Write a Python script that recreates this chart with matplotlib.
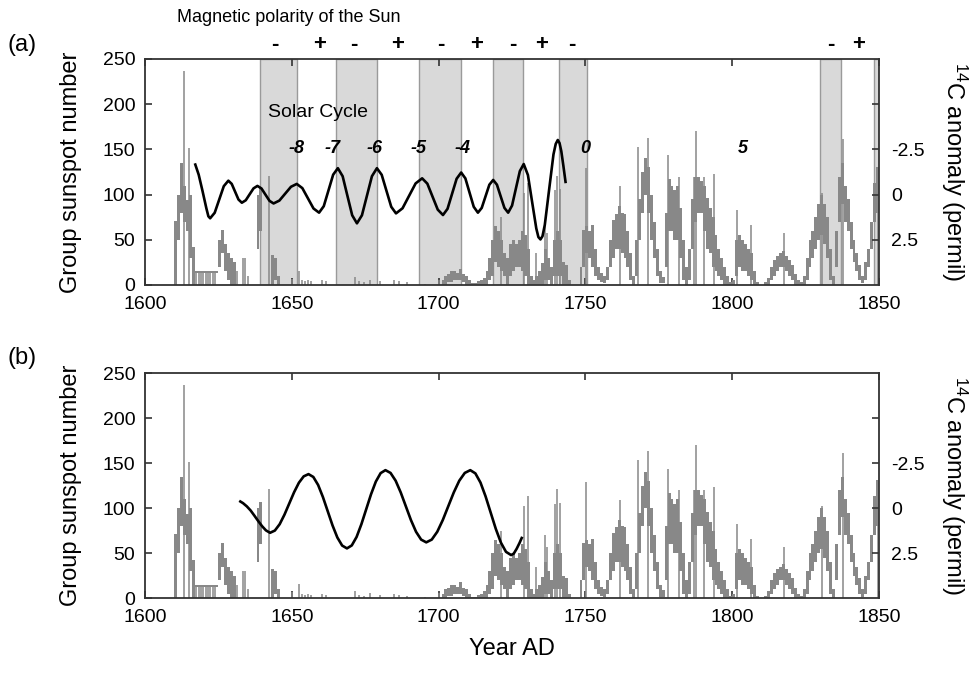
import numpy as np
import matplotlib
matplotlib.use("Agg")
from matplotlib import pyplot as plt

plt.rcParams['font.family'] = ['Liberation Sans', 'DejaVu Sans']
plt.rcParams['mathtext.fontset'] = 'custom'
plt.rcParams['mathtext.rm'] = 'Liberation Sans'
plt.rcParams['mathtext.it'] = 'Liberation Sans:italic'
plt.rcParams['mathtext.bf'] = 'Liberation Sans:bold'

# group sunspot number, per year 1610-1849: low and high of the monthly spread
ssn_year0 = 1610
ssn_lo = [
    0, 50, 80, 70, 60, 30, 0, 13, 13, 13,          # 1610
    13, 13, 13, 13, 13, 20, 35, 15, 5, 0,          # 1620
    0, 0, 0, 0, 0, 0, 0, 0, 40, 60,                # 1630
    0, 0, 0, 0, 5, 0, 0, 0, 0, 0,                  # 1640
    0, 0, 0, 0, 0, 0, 0, 0, 0, 0,                  # 1650
    0, 0, 0, 0, 0, 0, 0, 0, 0, 0,                  # 1660
    0, 0, 0, 0, 0, 0, 0, 0, 0, 0,                  # 1670
    0, 0, 0, 0, 0, 0, 0, 0, 0, 0,                  # 1680
    0, 0, 0, 0, 0, 0, 0, 0, 0, 0,                  # 1690
    0, 0, 0, 3, 3, 5, 5, 5, 3, 0,                  # 1700
    0, 0, 0, 0, 0, 0, 0, 5, 10, 25,                # 1710
    20, 15, 10, 0, 10, 15, 20, 20, 15, 10,         # 1720
    0, 0, 0, 0, 0, 0, 5, 5, 0, 10,                 # 1730
    10, 10, 0, 0, 0, 0, 0, 0, 0, 20,               # 1740
    35, 30, 20, 10, 5, 3, 2, 5, 20, 30,            # 1750
    40, 40, 35, 30, 20, 5, 0, 10, 50, 80,          # 1760
    100, 80, 50, 30, 10, 2, 2, 20, 60, 60,         # 1770
    50, 50, 30, 5, 0, 5, 40, 70, 80, 80,           # 1780
    60, 40, 35, 20, 15, 10, 5, 0, 0, 0,            # 1790
    0, 10, 20, 15, 15, 10, 5, 0, 0, 0,             # 1800
    0, 0, 0, 5, 10, 15, 20, 20, 15, 10,            # 1810
    5, 0, 0, 0, 0, 5, 20, 30, 40, 50,              # 1820
    55, 45, 30, 5, 0, 20, 70, 90, 70, 60,          # 1830
    40, 25, 15, 5, 2, 5, 20, 40, 70, 80,           # 1840
]
ssn_hi = [
    71, 100, 135, 110, 94, 100, 42, 15, 15, 15,    # 1610
    15, 15, 15, 15, 15, 50, 61, 45, 35, 30,        # 1620
    25, 0, 0, 0, 0, 0, 0, 0, 100, 107,             # 1630
    0, 0, 0, 33, 30, 10, 0, 0, 0, 0,               # 1640
    0, 0, 0, 0, 0, 0, 0, 0, 0, 0,                  # 1650
    0, 0, 0, 0, 0, 0, 0, 0, 0, 0,                  # 1660
    0, 0, 0, 0, 0, 0, 0, 0, 0, 0,                  # 1670
    0, 0, 0, 0, 0, 0, 0, 0, 0, 0,                  # 1680
    0, 0, 0, 0, 0, 0, 0, 0, 0, 0,                  # 1690
    0, 5, 10, 12, 15, 15, 13, 18, 12, 10,          # 1700
    5, 2, 2, 4, 5, 8, 15, 30, 50, 65,              # 1710
    60, 50, 35, 30, 45, 50, 45, 50, 60, 55,        # 1720
    40, 10, 5, 10, 15, 24, 40, 30, 20, 50,         # 1730
    60, 50, 25, 22, 5, 0, 0, 0, 20, 61,            # 1740
    65, 60, 66, 40, 20, 13, 10, 20, 50, 72,        # 1750
    79, 87, 80, 79, 60, 35, 10, 50, 95, 125,       # 1760
    140, 130, 100, 70, 40, 15, 9, 80, 117, 110,    # 1770
    105, 110, 85, 50, 20, 40, 95, 120, 120, 115,   # 1780
    110, 96, 85, 75, 55, 40, 30, 20, 10, 3,        # 1790
    5, 50, 55, 50, 45, 40, 35, 15, 3, 0,           # 1800
    0, 3, 8, 20, 28, 32, 35, 38, 32, 28,           # 1810
    22, 12, 5, 3, 10, 30, 50, 60, 75, 90,          # 1820
    100, 90, 75, 40, 10, 60, 120, 135, 110, 95,    # 1830
    70, 50, 35, 22, 10, 25, 40, 70, 113, 131,      # 1840
]

# single monthly spikes / isolated values (year, group sunspot number)
spike_years = [1613.4, 1615.1, 1617.5, 1618.3, 1619.1, 1619.9, 1620.7, 1621.5,
               1622.3, 1623.1, 1624.0, 1631.5, 1633.4, 1634.0, 1635.2, 1642.3,
               1650.0, 1652.3, 1653.5, 1654.6, 1655.5, 1656.7, 1660.3, 1661.8,
               1671.6, 1672.8, 1674.5, 1676.7, 1680.2, 1684.7, 1686.4, 1689.2,
               1695.5, 1700.0, 1721.3, 1729.0, 1730.5, 1733.2, 1736.4, 1737.0,
               1739.6, 1740.2, 1741.2, 1750.1, 1761.7, 1768.0, 1771.4, 1778.0,
               1781.9, 1787.0, 1787.8, 1790.4, 1793.8, 1801.6, 1806.4, 1817.5,
               1830.5, 1837.6, 1849.6]
spike_vals = [237, 151, 15, 15, 15, 15, 15, 15,
              15, 15, 15, 15, 30, 30, 10, 121,
              7, 16, 5, 4, 5, 4, 5, 4,
              8.5, 4, 3, 6, 4, 5, 4, 3,
              1, 6, 75, 102, 113, 35, 70, 57,
              105, 121, 106, 129, 109, 153, 163, 144,
              120, 120, 170, 120, 123, 83, 66, 57,
              102, 161, 131]

# 14C anomaly (permil), panel (a)
c14a_year = [1617.0, 1618.3, 1619.6, 1620.9, 1621.6, 1622.2, 1623.75, 1625.3, 1626.85,
             1628.4, 1629.55, 1630.7, 1631.85, 1633.0, 1634.33, 1635.65, 1636.98,
             1638.3, 1639.68, 1641.05, 1642.43, 1643.8, 1645.78, 1647.75, 1649.73,
             1651.7, 1653.6, 1655.5, 1657.4, 1659.3, 1660.9, 1662.5, 1664.1,
             1665.7, 1667.33, 1668.95, 1670.58, 1672.2, 1673.9, 1675.6, 1677.3,
             1679.0, 1680.63, 1682.25, 1683.88, 1685.5, 1687.73, 1689.95, 1692.18,
             1694.4, 1696.18, 1697.95, 1699.73, 1701.5, 1703.05, 1704.6, 1706.15,
             1707.7, 1709.13, 1710.55, 1711.98, 1713.4, 1714.7, 1716.0, 1717.3,
             1718.6, 1719.88, 1721.15, 1722.43, 1723.7, 1725.03, 1726.35, 1727.68,
             1729.0, 1730.43, 1731.85, 1733.28, 1734.0, 1734.7, 1735.4, 1736.18,
             1737.65, 1739.13, 1739.9, 1740.6, 1741.2, 1741.8, 1742.5, 1743.3]
c14a_val = [-1.73, -1.1, -0.2, 0.75, 1.2, 1.31, 1.006, 0.27, -0.466,
            -0.77, -0.592, -0.16, 0.272, 0.45, 0.314, -0.015, -0.344,
            -0.48, -0.338, 0.005, 0.348, 0.49, 0.332, -0.05, -0.432,
            -0.59, -0.358, 0.205, 0.768, 1.0, 0.641, -0.23, -1.101,
            -1.46, -1.015, 0.065, 1.145, 1.59, 1.145, 0.065, -1.015,
            -1.46, -1.095, -0.21, 0.675, 1.04, 0.757, 0.07, -0.617,
            -0.9, -0.604, 0.115, 0.834, 1.13, 0.787, -0.045, -0.877,
            -1.22, -0.896, -0.11, 0.676, 1.0, 0.736, 0.095, -0.546,
            -0.81, -0.546, 0.095, 0.736, 1.0, 0.607, -0.345, -1.297,
            -1.69, -1.081, 0.395, 1.871, 2.35, 2.48, 2.3, 1.677,
            -0.27, -2.217, -2.8, -3.02, -2.85, -2.4, -1.6, -0.63]

# 14C anomaly (permil), panel (b)
c14b_year = [1632.1, 1633.4, 1634.7, 1636.0, 1637.3, 1638.6, 1639.9, 1641.2,
             1642.6, 1644.24, 1645.88, 1647.51, 1649.15, 1650.79, 1652.43, 1654.06,
             1655.7, 1657.34, 1658.98, 1660.61, 1662.25, 1663.89, 1665.53, 1667.16,
             1668.8, 1670.44, 1672.08, 1673.71, 1675.35, 1676.99, 1678.63, 1680.26,
             1681.9, 1683.64, 1685.38, 1687.11, 1688.85, 1690.59, 1692.33, 1694.06,
             1695.8, 1697.68, 1699.55, 1701.43, 1703.3, 1705.18, 1707.05, 1708.93,
             1710.8, 1712.54, 1714.28, 1716.01, 1717.75, 1719.49, 1721.23, 1722.96,
             1724.7, 1725.6, 1726.6, 1727.6, 1728.5]
c14b_val = [-0.41, -0.28, -0.1, 0.13, 0.42, 0.72, 1.0, 1.23,
            1.365, 1.241, 0.888, 0.36, -0.263, -0.885, -1.413, -1.766,
            -1.89, -1.733, -1.287, -0.618, 0.17, 0.958, 1.627, 2.073,
            2.23, 2.065, 1.595, 0.89, 0.06, -0.77, -1.475, -1.945,
            -2.11, -1.957, -1.524, -0.874, -0.107, 0.659, 1.309, 1.742,
            1.895, 1.742, 1.309, 0.659, -0.107, -0.874, -1.524, -1.957,
            -2.11, -1.931, -1.42, -0.656, 0.245, 1.146, 1.91, 2.421,
            2.6, 2.52, 2.25, 1.92, 1.585]

# negative-polarity shaded intervals in panel (a)
band_start = [1639.2, 1665.1, 1693.5, 1718.7, 1740.9, 1829.9, 1848.3]
band_end = [1651.8, 1679.1, 1707.8, 1728.9, 1750.4, 1837.0, 1850.0]

polarity_year = [1644.3, 1659.3, 1671.3, 1685.9, 1700.6, 1712.9, 1725.2, 1735.1,
                 1745.3, 1833.6, 1843.2]
polarity_sign = ['-', '+', '-', '+', '-', '+', '-', '+', '-', '-', '+']

cycle_year = [1651.5, 1664.0, 1678.2, 1693.0, 1708.0, 1750.0, 1803.7]
cycle_label = ['-8', '-7', '-6', '-5', '-4', '0', '5']

ssn_color = '#888888'
frame_color = '#333333'

fig = plt.figure(figsize=(9.69, 6.75), dpi=100)
ax_a = fig.add_axes([0.1496, 0.5778, 0.7575, 0.3348])
ax_b = fig.add_axes([0.1496, 0.1136, 0.7575, 0.3338])

years = np.arange(ssn_year0, ssn_year0 + len(ssn_lo))
lo = np.array(ssn_lo, dtype=float)
hi = np.array(ssn_hi, dtype=float)


def draw_panel(ax, c14_year, c14_val):
    ax.bar(years, hi - lo, bottom=lo, width=1.0, align='edge',
           color=ssn_color, linewidth=0, zorder=2)
    ax.vlines(spike_years, 0, spike_vals, color=ssn_color, lw=1.1, zorder=2)
    ax.set_xlim(1600, 1850)
    ax.set_ylim(0, 250)
    ax.set_xticks([1600, 1650, 1700, 1750, 1800, 1850])
    ax.set_yticks([0, 50, 100, 150, 200, 250])
    ax.tick_params(direction='in', length=5, width=1.2, labelsize=14,
                   top=True, pad=7, color=frame_color)
    ax.tick_params(axis='x', pad=8)
    for s in ax.spines.values():
        s.set_color(frame_color)
        s.set_linewidth(1.3)
    ax.set_ylabel('Group sunspot number', fontsize=17, labelpad=15)

    # right axis: 14C anomaly, inverted
    ax2 = ax.twinx()
    ax2.set_ylim(5, -7.5)
    ax2.set_yticks([-5, -2.5, 0, 2.5])
    ax2.set_yticklabels(['', '-2.5', '0', '2.5'])
    ax2.tick_params(direction='in', length=5, width=1.2, labelsize=14,
                    pad=9, color=frame_color)
    for s in ax2.spines.values():
        s.set_visible(False)
    ax2.plot(c14_year, c14_val, color='black', lw=1.9, zorder=5,
             solid_capstyle='butt', solid_joinstyle='round')
    ax2.set_ylabel(r'$^{14}$C anomaly (permil)', fontsize=17, rotation=-90,
                   labelpad=32)
    return ax2


# panel (a)
for x0, x1 in zip(band_start, band_end):
    ax_a.axvspan(x0, x1, facecolor='#d9d9d9', edgecolor='#9a9a9a', lw=1.0, zorder=1)
draw_panel(ax_a, c14a_year, c14a_val)
ax_a.text(1659.0, 191, 'Solar Cycle', fontsize=14, ha='center', va='center', zorder=6)
for yr, lab in zip(cycle_year, cycle_label):
    ax_a.text(yr, 151, lab, fontsize=13, fontweight='bold', fontstyle='italic',
              ha='center', va='center', zorder=6)
for yr, sg in zip(polarity_year, polarity_sign):
    ax_a.text(yr, 1.065, sg, transform=ax_a.get_xaxis_transform(),
              fontsize=16, fontweight='bold', ha='center', va='center')

# panel (b)
draw_panel(ax_b, c14b_year, c14b_val)
ax_b.set_xlabel('Year AD', fontsize=17, labelpad=8)

fig.text(289 / 969, 1 - 17 / 675, 'Magnetic polarity of the Sun', fontsize=13,
         ha='center', va='center')
fig.text(22 / 969, 1 - 45 / 675, '(a)', fontsize=17, ha='center', va='center')
fig.text(22 / 969, 1 - 358 / 675, '(b)', fontsize=17, ha='center', va='center')

fig.savefig('out.png', dpi=100)
